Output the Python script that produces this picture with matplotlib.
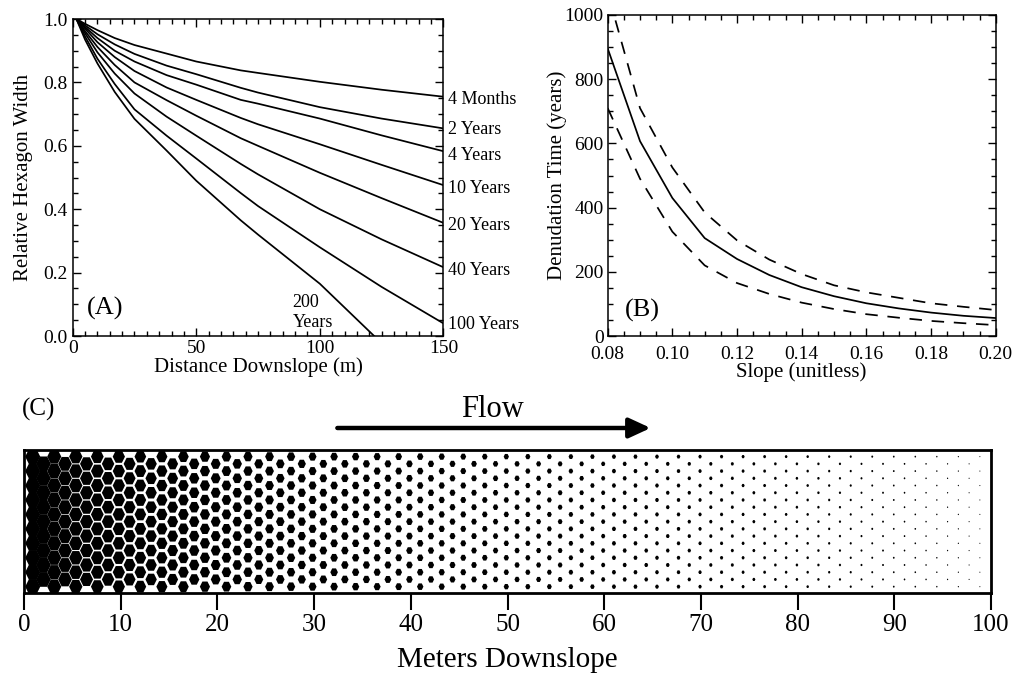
import numpy as np
import matplotlib
matplotlib.use("Agg")
import matplotlib.pyplot as plt
from matplotlib.collections import PolyCollection
from matplotlib.ticker import MultipleLocator, FormatStrFormatter

plt.rcParams['font.family'] = ['Liberation Serif', 'DejaVu Serif']
plt.rcParams['lines.scale_dashes'] = False

# ---------------- Panel A data ----------------
dist_a = [1.5, 5, 10, 17, 25, 38, 50, 68, 75, 100, 125, 150]
width_4months = [1.0, 0.985, 0.965, 0.940, 0.918, 0.891, 0.866, 0.838, 0.830, 0.802, 0.777, 0.755]
width_2yr = [1.0, 0.980, 0.952, 0.920, 0.890, 0.853, 0.826, 0.783, 0.768, 0.722, 0.686, 0.655]
width_4yr = [1.0, 0.975, 0.940, 0.900, 0.866, 0.823, 0.793, 0.745, 0.733, 0.686, 0.633, 0.583]
width_10yr = [1.0, 0.970, 0.927, 0.880, 0.836, 0.784, 0.745, 0.688, 0.668, 0.605, 0.540, 0.476]
width_20yr = [1.0, 0.962, 0.912, 0.855, 0.800, 0.744, 0.695, 0.624, 0.600, 0.515, 0.435, 0.357]
width_40yr = [1.0, 0.955, 0.895, 0.828, 0.765, 0.692, 0.632, 0.543, 0.510, 0.400, 0.305, 0.217]
width_100yr = [1.0, 0.945, 0.875, 0.795, 0.715, 0.632, 0.560, 0.451, 0.410, 0.280, 0.155, 0.040]
dist_200yr = [1.5, 5, 10, 17, 25, 38, 50, 68, 75, 100, 122]
width_200yr = [1.0, 0.935, 0.860, 0.770, 0.685, 0.585, 0.490, 0.365, 0.320, 0.165, 0.0]

labels_a = ["4 Months", "2 Years", "4 Years", "10 Years", "20 Years", "40 Years", "100 Years"]
label_y_a = [0.745, 0.650, 0.569, 0.466, 0.348, 0.208, 0.035]

# ---------------- Panel B data ----------------
slope_b = [0.08, 0.09, 0.10, 0.11, 0.12, 0.13, 0.14, 0.15, 0.16, 0.17, 0.18, 0.19, 0.20]
time_mid = [896, 607, 430, 305, 240, 190, 152, 124, 102, 86, 73, 63, 56]
time_upper = [1070, 710, 525, 385, 298, 238, 193, 158, 136, 119, 102, 91, 81]
time_lower = [710, 490, 325, 220, 165, 131, 104, 84, 68, 57, 47, 40, 34]

# ---------------- Panel C data ----------------
# relative hexagon width for each column, left to right (1 = touching)
hex_rel_width = [
    1.05, 1.02, 0.98, 0.955, 0.93, 0.91, 0.89, 0.87, 0.855, 0.835,
    0.815, 0.795, 0.775, 0.76, 0.745, 0.725, 0.71, 0.69, 0.675, 0.66,
    0.645, 0.63, 0.615, 0.60, 0.585, 0.57, 0.555, 0.54, 0.53, 0.52,
    0.51, 0.50, 0.49, 0.48, 0.47, 0.46, 0.45, 0.44, 0.43, 0.42,
    0.41, 0.40, 0.39, 0.38, 0.37, 0.365, 0.355, 0.35, 0.34, 0.335,
    0.325, 0.32, 0.31, 0.30, 0.295, 0.29, 0.285, 0.275, 0.27, 0.265,
    0.26, 0.25, 0.245, 0.24, 0.235, 0.225, 0.22, 0.215, 0.21, 0.20,
    0.195, 0.19, 0.185, 0.18, 0.17, 0.165, 0.16, 0.15, 0.145, 0.14,
    0.13, 0.125, 0.12, 0.11, 0.105, 0.095, 0.09, 0.08, 0.075]
c_ticks = [0, 10, 20, 30, 40, 50, 60, 70, 80, 90, 100]

# ---------------- Figure ----------------
fig = plt.figure(figsize=(10.27, 6.75), dpi=100)

def style_box(ax):
    for s in ax.spines.values():
        s.set_linewidth(1.1)
    ax.tick_params(which='both', direction='in', top=True, right=True,
                   width=1.0, labelsize=14, pad=4)
    ax.tick_params(which='major', length=6)
    ax.tick_params(which='minor', length=3.5)

# Panel A
axa = fig.add_axes([0.0708, 0.5022, 0.3609, 0.4696])
lw = 1.25
for w in [width_4months, width_2yr, width_4yr, width_10yr, width_20yr, width_40yr, width_100yr]:
    axa.plot(dist_a, w, color='black', lw=lw)
axa.plot(dist_200yr, width_200yr, color='black', lw=lw)
axa.set_xlim(0, 150)
axa.set_ylim(0, 1.0)
axa.xaxis.set_major_locator(MultipleLocator(50))
axa.xaxis.set_minor_locator(MultipleLocator(5))
axa.yaxis.set_major_locator(MultipleLocator(0.2))
axa.yaxis.set_minor_locator(MultipleLocator(0.05))
axa.yaxis.set_major_formatter(FormatStrFormatter('%.1f'))
style_box(axa)
axa.tick_params(axis='x', pad=3)
axa.set_xlabel("Distance Downslope (m)", fontsize=15, labelpad=0)
axa.set_ylabel("Relative Hexagon Width", fontsize=15, labelpad=7)
for lab, yy in zip(labels_a, label_y_a):
    axa.text(152, yy, lab, fontsize=13, va='center', ha='left', clip_on=False)
axa.text(89, 0.029, "200\nYears", fontsize=13, va='baseline', ha='left')
axa.text(13.3, 0.087, "(A)", fontsize=19, va='center', ha='center')

# Panel B
axb = fig.add_axes([0.5917, 0.5022, 0.3778, 0.4756])
axb.plot(slope_b, time_mid, color='black', lw=lw)
axb.plot(slope_b, time_upper, color='black', lw=lw, dashes=[9, 7])
axb.plot(slope_b, time_lower, color='black', lw=lw, dashes=[9, 7])
axb.set_xlim(0.08, 0.20)
axb.set_ylim(0, 1000)
axb.xaxis.set_major_locator(MultipleLocator(0.02))
axb.xaxis.set_minor_locator(MultipleLocator(0.005))
axb.yaxis.set_major_locator(MultipleLocator(200))
axb.yaxis.set_minor_locator(MultipleLocator(50))
axb.xaxis.set_major_formatter(FormatStrFormatter('%.2f'))
style_box(axb)
axb.tick_params(axis='x', pad=7)
axb.tick_params(axis='y', pad=3)
axb.set_xlabel("Slope (unitless)", fontsize=15, labelpad=0)
axb.set_ylabel("Denudation Time (years)", fontsize=15, labelpad=-2)
axb.text(0.0906, 79, "(B)", fontsize=19, va='center', ha='center')

# Panel C
axc = fig.add_axes([0.0234, 0.1215, 0.9416, 0.2119])
c_height = 14.79
axc.set_xlim(0, 100)
axc.set_ylim(0, c_height)
col_spacing = 1.113
row_spacing = 0.747
first_col = 0.9
top_row = 14.10
r_tile = col_spacing / 1.5
v_stretch = 2 * row_spacing / (np.sqrt(3) * r_tile)
ang = np.deg2rad([0, 60, 120, 180, 240, 300])
verts = []
for k, w in enumerate(hex_rel_width):
    x = first_col + k * col_spacing
    levels = range(0, 19, 2) if k % 2 == 0 else range(1, 18, 2)
    r = w * r_tile
    for j in levels:
        y = top_row - j * row_spacing
        verts.append(np.column_stack([x + r * np.cos(ang),
                                      y + v_stretch * r * np.sin(ang)]))
axc.add_collection(PolyCollection(verts, facecolors='black',
                                  edgecolors='none', antialiased=True))
for s in axc.spines.values():
    s.set_linewidth(2.0)
axc.set_yticks([])
axc.set_xticks(c_ticks)
axc.tick_params(axis='x', direction='out', length=12, width=1.5,
                labelsize=18, pad=3)
axc.set_xlabel("Meters Downslope", fontsize=21, labelpad=8)

# Flow arrow and labels
arrow_y = c_height + 2.27
axc.annotate('', xy=(64.8, arrow_y), xytext=(32.4, arrow_y),
             xycoords='data', textcoords='data', annotation_clip=False,
             arrowprops=dict(arrowstyle='-|>,head_length=0.65,head_width=0.3',
                             mutation_scale=20, lw=3.2, color='black',
                             shrinkA=0, shrinkB=0))
fig.text(0.4795, 0.3926, "Flow", fontsize=22, ha='center', va='center')
fig.text(0.038, 0.394, "(C)", fontsize=18, ha='center', va='center')

fig.savefig("out.png", dpi=100)
